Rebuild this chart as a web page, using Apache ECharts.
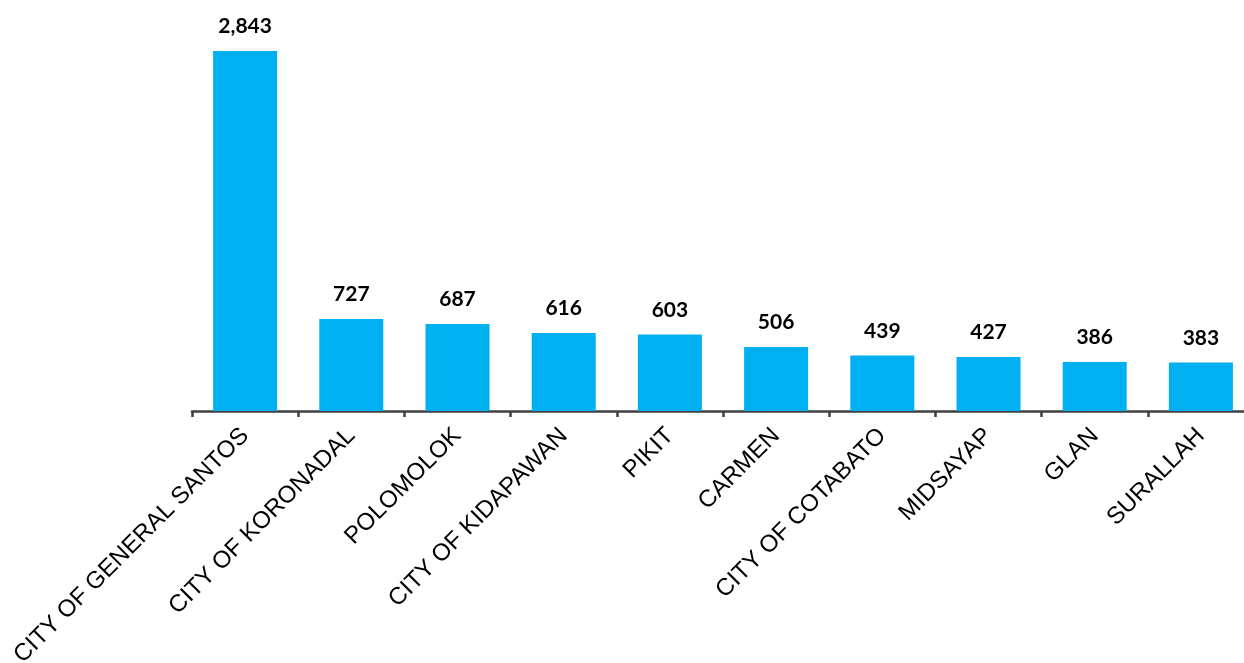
<!DOCTYPE html>
<html><head><meta charset="utf-8">
<script src="https://cdn.jsdelivr.net/npm/echarts@6/dist/echarts.min.js"></script>
<style>html,body{margin:0;padding:0;background:#fff;}#c{width:1244px;height:663px;}</style>
</head><body><div id="c"></div>
<script>
const categories = ["CITY OF GENERAL SANTOS","CITY OF KORONADAL","POLOMOLOK","CITY OF KIDAPAWAN","PIKIT","CARMEN","CITY OF COTABATO","MIDSAYAP","GLAN","SURALLAH"];
const values = [2843,727,687,616,603,506,439,427,386,383];

const chart = echarts.init(document.getElementById('c'));
chart.setOption({
  animation:false,
  grid:{left:192, top:31, width:1062, bottom:252, containLabel:false, outerBoundsMode:'none'},
  xAxis:{
    type:'category', data:categories,
    axisLine:{lineStyle:{color:'#404040', width:2.5}},
    axisTick:{show:true, alignWithLabel:false, length:6, lineStyle:{color:'#404040', width:2.5}},
    axisLabel:{rotate:45, interval:0, margin:21, fontFamily:'Liberation Sans, Arial', fontSize:24, color:'#000'}
  },
  yAxis:{type:'value', min:0, max:3000, show:false, splitLine:{show:false}},
  series:[{
    type:'bar', data:values, barWidth:64,
    itemStyle:{color:'#00B0F0'},
    label:{show:true, position:'top', distance:14, fontFamily:'Lato', fontWeight:'bold', fontSize:21, color:'#000',
      formatter:p=>p.value.toLocaleString('en-US')}
  }]
});
</script></body></html>
